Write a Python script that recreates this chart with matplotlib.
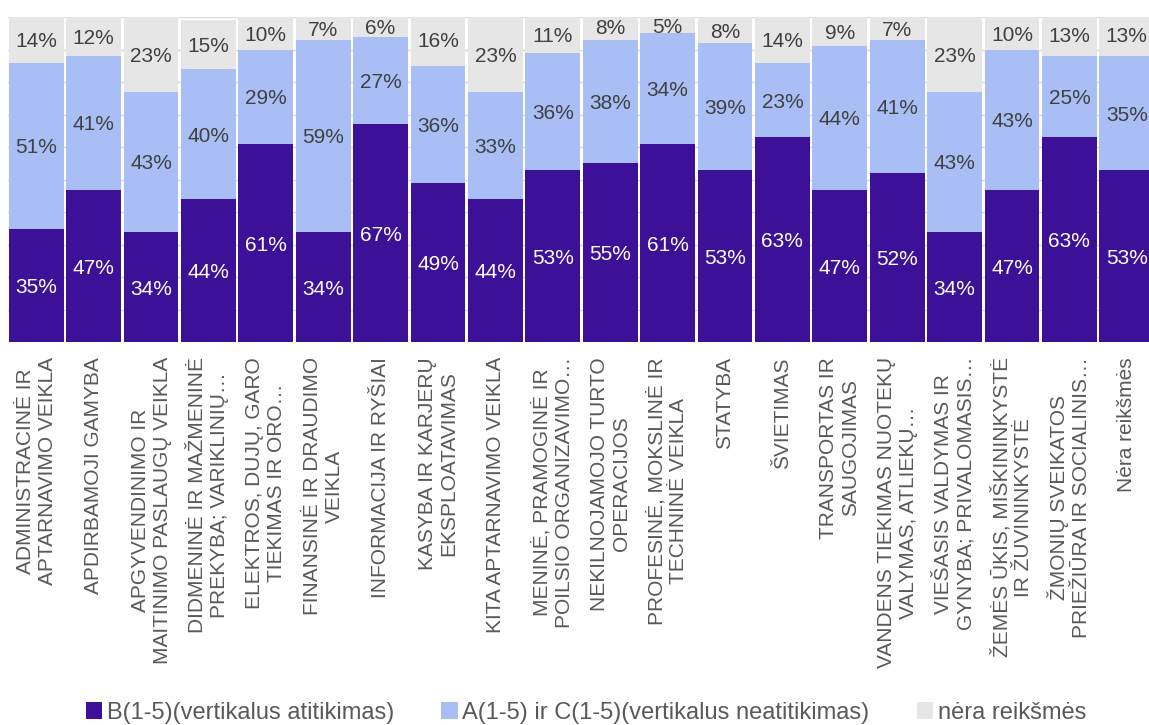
import matplotlib.pyplot as plt
import numpy as np

plt.rcParams['font.family'] = ['Liberation Sans', 'DejaVu Sans']

# Sector names as they appear (truncated ones kept with the ellipsis)
categories = [
    'ADMINISTRACINĖ IR\nAPTARNAVIMO VEIKLA',
    'APDIRBAMOJI GAMYBA',
    'APGYVENDINIMO IR\nMAITINIMO PASLAUGŲ VEIKLA',
    'DIDMENINĖ IR MAŽMENINĖ\nPREKYBA; VARIKLINIŲ…',
    'ELEKTROS, DUJŲ, GARO\nTIEKIMAS IR ORO…',
    'FINANSINĖ IR DRAUDIMO\nVEIKLA',
    'INFORMACIJA IR RYŠIAI',
    'KASYBA IR KARJERŲ\nEKSPLOATAVIMAS',
    'KITA APTARNAVIMO VEIKLA',
    'MENINĖ, PRAMOGINĖ IR\nPOILSIO ORGANIZAVIMO…',
    'NEKILNOJAMOJO TURTO\nOPERACIJOS',
    'PROFESINĖ, MOKSLINĖ IR\nTECHNINĖ VEIKLA',
    'STATYBA',
    'ŠVIETIMAS',
    'TRANSPORTAS IR\nSAUGOJIMAS',
    'VANDENS TIEKIMAS NUOTEKŲ\nVALYMAS, ATLIEKŲ…',
    'VIEŠASIS VALDYMAS IR\nGYNYBA; PRIVALOMASIS…',
    'ŽEMĖS ŪKIS, MIŠKININKYSTĖ\nIR ŽUVININKYSTĖ',
    'ŽMONIŲ SVEIKATOS\nPRIEŽIŪRA IR SOCIALINIS…',
    'Nėra reikšmės',
]

# Shares in percent
b_values = [35, 47, 34, 44, 61, 34, 67, 49, 44, 53, 55, 61, 53, 63, 47, 52, 34, 47, 63, 53]
ac_values = [51, 41, 43, 40, 29, 59, 27, 36, 33, 36, 38, 34, 39, 23, 44, 41, 43, 43, 25, 35]
none_values = [14, 12, 23, 15, 10, 7, 6, 16, 23, 11, 8, 5, 8, 14, 9, 7, 23, 10, 13, 13]

series_names = [
    'B(1-5)(vertikalus atitikimas)',
    'A(1-5) ir C(1-5)(vertikalus neatitikimas)',
    'nėra reikšmės',
]
series_colors = ['#3D1197', '#A9BEF5', '#E6E6E6']
label_colors = ['white', '#404040', '#404040']

fig = plt.figure(figsize=(11.49, 7.25), dpi=100)
# plot area runs right up to the right edge, like the original
ax = fig.add_axes([7.5 / 1149, (725 - 342.5) / 725, 1148 / 1149, 325.5 / 725])

x = np.arange(len(categories))
bottom = np.zeros(len(categories))
for values, name, color, tcolor in zip([b_values, ac_values, none_values],
                                       series_names, series_colors, label_colors):
    ax.bar(x, values, 0.955, bottom=bottom, color=color, label=name, zorder=2)
    for xi, v, b in zip(x, values, bottom):
        ax.text(xi, b + v / 2, f'{v}%', ha='center', va='center_baseline',
                color=tcolor, fontsize=15, zorder=3)
    bottom = bottom + np.array(values)

ax.set_xlim(-0.5, len(categories) - 0.5)
ax.set_ylim(0, 100)
ax.set_yticks(range(0, 101, 10))
ax.grid(axis='y', color='#D9D9D9', linewidth=1)
ax.set_axisbelow(True)
for spine in ax.spines.values():
    spine.set_visible(False)

ax.set_xticks(x)
ax.set_xticklabels(categories, rotation=90, fontsize=15, color='#595959',
                   linespacing=1.2, multialignment='center')
ax.tick_params(axis='x', length=0, pad=10.5)
ax.tick_params(axis='y', left=False, labelleft=False)

fig.legend(loc='center', bbox_to_anchor=(0.51, 0.0166), ncol=3, frameon=False,
           fontsize=17, handlelength=0.7, handleheight=0.7, handletextpad=0.2,
           columnspacing=2.0, labelcolor='#595959', borderpad=0)

plt.savefig('out.png', dpi=100)
plt.close()
